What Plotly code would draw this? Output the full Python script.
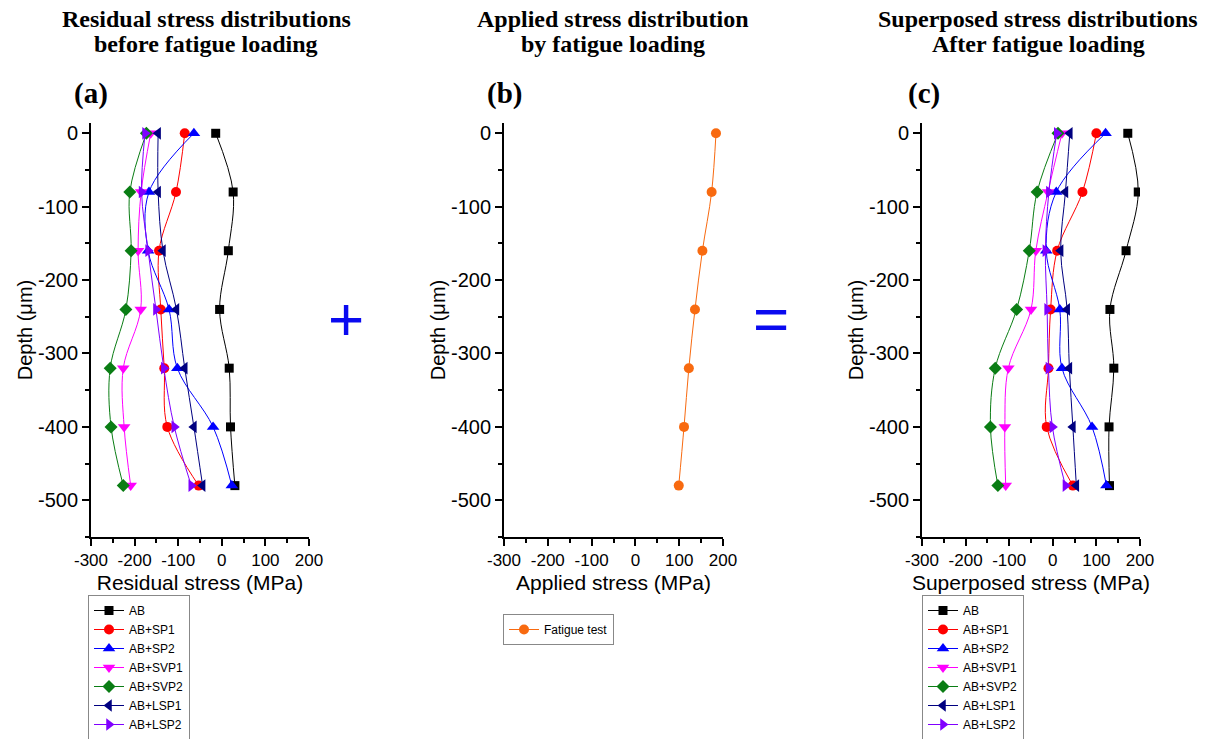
import plotly.graph_objects as go

W, H = 1231, 739

depth = [0, -80, -160, -240, -320, -400, -480]

series_names = ["AB", "AB+SP1", "AB+SP2", "AB+SVP1", "AB+SVP2", "AB+LSP1", "AB+LSP2"]

# (a) residual stress before fatigue loading (MPa)
res_AB   = [-14, 26, 15, -5, 17, 20, 30]
res_SP1  = [-85, -105, -144, -140, -132, -125, -53]
res_SP2  = [-64, -167, -169, -121, -102, -20, 23]
res_SVP1 = [-163, -185, -192, -186, -226, -224, -209]
res_SVP2 = [-173, -211, -208, -220, -256, -254, -226]
res_LSP1 = [-146, -146, -135, -104, -85, -64, -44]
res_LSP2 = [-176, -184, -169, -151, -133, -109, -70]

# (b) applied stress by fatigue loading (MPa)
applied = [184, 174, 153, 136, 122, 111, 99]

# (c) superposed stress after fatigue loading (MPa)
sup_AB   = [172, 196, 168, 131, 140, 129, 130]
sup_SP1  = [100, 68, 10, -5, -10, -14, 46]
sup_SP2  = [121, 8, -15, 16, 21, 90, 123]
sup_SVP1 = [21, -11, -39, -50, -102, -110, -108]
sup_SVP2 = [12, -36, -54, -83, -132, -143, -126]
sup_LSP1 = [39, 29, 18, 33, 38, 46, 54]
sup_LSP2 = [9, -9, -17, -13, -10, -1, 29]

# tick labels (hyphen minus, as in the original)
x_tickvals = [-300, -200, -100, 0, 100, 200]
x_ticktext = ["-300", "-200", "-100", "0", "100", "200"]
y_tickvals = [0, -100, -200, -300, -400, -500]
y_ticktext = ["0", "-100", "-200", "-300", "-400", "-500"]

colors = ["#000000", "#FF0000", "#0000FF", "#FF00FF", "#0A7D14", "#000080", "#8000FF"]
symbols = ["square", "circle", "triangle-up", "triangle-down", "diamond", "triangle-left", "triangle-right"]
msizes = [9, 10, 11, 11, 10, 11, 11]
fatigue_color = "#F86A10"

residual = [res_AB, res_SP1, res_SP2, res_SVP1, res_SVP2, res_LSP1, res_LSP2]
superposed = [sup_AB, sup_SP1, sup_SP2, sup_SVP1, sup_SVP2, sup_LSP1, sup_LSP2]

fig = go.Figure()

for i, name in enumerate(series_names):
    fig.add_trace(go.Scatter(
        x=residual[i], y=depth, name=name, mode="lines+markers",
        line=dict(color=colors[i], width=1, shape="spline"),
        marker=dict(symbol=symbols[i], size=msizes[i], color=colors[i]),
        xaxis="x", yaxis="y", legend="legend"))

fig.add_trace(go.Scatter(
    x=applied, y=depth, name="Fatigue test", mode="lines+markers",
    line=dict(color=fatigue_color, width=1, shape="spline"),
    marker=dict(symbol="circle", size=10, color=fatigue_color),
    xaxis="x2", yaxis="y2", legend="legend2"))

for i, name in enumerate(series_names):
    fig.add_trace(go.Scatter(
        x=superposed[i], y=depth, name=name, mode="lines+markers",
        line=dict(color=colors[i], width=1, shape="spline"),
        marker=dict(symbol=symbols[i], size=msizes[i], color=colors[i]),
        xaxis="x3", yaxis="y3", legend="legend3"))

def px_x(p):
    return p / W

def px_y(p):
    return 1 - p / H

ydom = [px_y(537), px_y(123)]
xdoms = [[px_x(91), px_x(309)], [px_x(504), px_x(723)], [px_x(922), px_x(1140)]]
xtitles = ["Residual stress (MPa)", "Applied stress (MPa)", "Superposed stress (MPa)"]

axis_font = dict(family="Liberation Sans, Arial, sans-serif", color="black")

layout = dict(
    width=W, height=H,
    margin=dict(l=0, r=0, t=0, b=0, autoexpand=False),
    paper_bgcolor="white", plot_bgcolor="white",
    showlegend=True,
    font=dict(family="Liberation Sans, Arial, sans-serif", color="black"),
)

for k in range(3):
    sx = "" if k == 0 else str(k + 1)
    layout["xaxis" + sx] = dict(
        domain=xdoms[k], anchor="y" + sx, range=[-300, 200],
        tickmode="array", tickvals=x_tickvals, ticktext=x_ticktext,
        ticks="outside", ticklen=7, tickwidth=1.5, tickcolor="black",
        minor=dict(ticks="outside", ticklen=4, tick0=-300, dtick=50, tickwidth=1.5, tickcolor="black"),
        showline=True, linecolor="black", linewidth=2, mirror=False,
        showgrid=False, zeroline=False,
        tickfont=dict(size=17, **axis_font),
        title=dict(text=xtitles[k], font=dict(size=21, **axis_font), standoff=6),
    )
    layout["yaxis" + sx] = dict(
        domain=ydom, anchor="x" + sx, range=[-550, 14],
        tickmode="array", tickvals=y_tickvals, ticktext=y_ticktext,
        ticks="outside", ticklen=7, tickwidth=1.5, tickcolor="black",
        minor=dict(ticks="outside", ticklen=4, tick0=0, dtick=50, tickwidth=1.5, tickcolor="black"),
        showline=True, linecolor="black", linewidth=2, mirror=False,
        showgrid=False, zeroline=False,
        tickfont=dict(size=20, **axis_font),
        title=dict(text="Depth (\u03bcm)", font=dict(size=20, **axis_font), standoff=0),
    )

leg_common = dict(
    bgcolor="rgba(255,255,255,0)", bordercolor="#888888", borderwidth=1,
    font=dict(size=12, family="Liberation Sans, Arial, sans-serif", color="black"),
    xanchor="left", yanchor="top", itemwidth=30, tracegroupgap=0,
)
layout["legend"] = dict(x=px_x(88), y=px_y(595), **leg_common)
layout["legend2"] = dict(x=px_x(503), y=px_y(614), **leg_common)
layout["legend3"] = dict(x=px_x(922), y=px_y(595), **leg_common)

fig.update_layout(**layout)

title_font = dict(family="Liberation Serif, Times New Roman, serif", color="black", size=24)
titles = [
    (206, "Residual stress distributions", "before fatigue loading", 91, "(a)"),
    (613, "Applied stress distribution", "by fatigue loading", 504, "(b)"),
    (1038, "Superposed stress distributions", "After fatigue loading", 924, "(c)"),
]
for cx, l1, l2, lx, lab in titles:
    fig.add_annotation(x=px_x(cx), y=px_y(18.5), xref="paper", yref="paper", text="<b>%s</b>" % l1,
                       showarrow=False, xanchor="center", yanchor="middle", font=title_font)
    fig.add_annotation(x=px_x(cx), y=px_y(44), xref="paper", yref="paper", text="<b>%s</b>" % l2,
                       showarrow=False, xanchor="center", yanchor="middle", font=title_font)
    fig.add_annotation(x=px_x(lx), y=px_y(93), xref="paper", yref="paper", text="<b>%s</b>" % lab,
                       showarrow=False, xanchor="center", yanchor="middle",
                       font=dict(family="Liberation Serif, Times New Roman, serif", color="black", size=29))

fig.add_annotation(x=px_x(346), y=px_y(318), xref="paper", yref="paper", text="+",
                   showarrow=False, xanchor="center", yanchor="middle",
                   font=dict(family="Liberation Sans, Arial, sans-serif", color="#0A0AF0", size=62))
fig.add_annotation(x=px_x(771), y=px_y(318), xref="paper", yref="paper", text="=",
                   showarrow=False, xanchor="center", yanchor="middle",
                   font=dict(family="Liberation Sans, Arial, sans-serif", color="#0A0AF0", size=62))

fig.write_html("out.html")
